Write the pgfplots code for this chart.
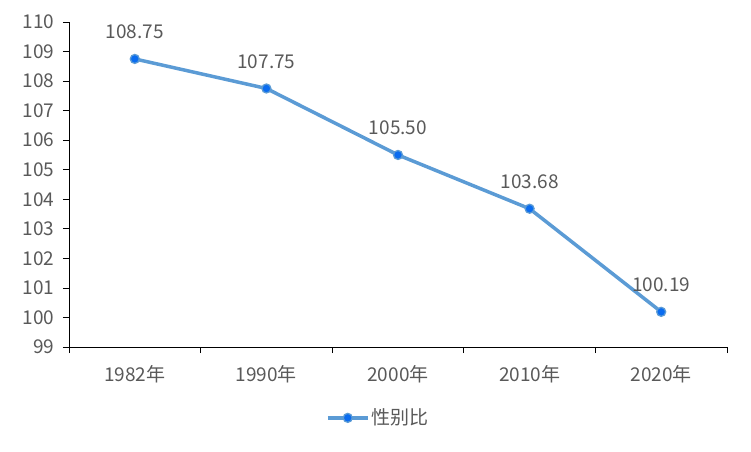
\documentclass[border=0pt]{standalone}
\usepackage{fontspec}
\setmainfont{Noto Sans CJK SC}
\usepackage{pgfplots}
\pgfplotsset{compat=1.18}
\definecolor{linec}{HTML}{5B9BD5}
\definecolor{markc}{HTML}{0A6CF0}
\definecolor{txt}{HTML}{595959}
\begin{document}
\fontsize{19}{22}\selectfont
\begin{tikzpicture}
\begin{axis}[
  at={(0pt,0pt)}, anchor=south west,
  scale only axis, width=658pt, height=325pt,
  xmin=-0.5, xmax=4.5, ymin=99, ymax=110,
  axis x line*=bottom, axis y line*=left,
  axis line style={black, line width=0.8pt},
  xtick={0,1,2,3,4},
  xticklabels={1982年,1990年,2000年,2010年,2020年},
  minor xtick={-0.5,0.5,1.5,2.5,3.5,4.5},
  major x tick style={draw=none},
  minor x tick style={black, line width=0.8pt},
  ytick={99,100,...,110},
  y tick style={black, line width=0.8pt},
  tick align=outside,
  major tick length=6pt, minor tick length=6pt,
  tick label style={text=txt, font=\fontsize{19}{22}\selectfont},
  /pgf/number format/assume math mode=true,
  yticklabel style={xshift=-2pt},
  xticklabel style={yshift=-6pt},
  nodes near coords,
  nodes near coords style={text=txt, font=\fontsize{19}{22}\selectfont, yshift=13pt,
    /pgf/number format/fixed, /pgf/number format/fixed zerofill,
    /pgf/number format/precision=2, /pgf/number format/assume math mode=true},
  legend style={at={(0.47,-0.218)}, anchor=center, draw=none, fill=none,
    font=\fontsize{19}{22}\selectfont, text=txt},
  legend image code/.code={
    \draw[#1, mark repeat=2, mark phase=2] plot coordinates {(0pt,0pt) (20pt,0pt) (40pt,0pt)};
  },
  clip=false,
]
\addplot[color=linec, line width=3.5pt, mark=*, mark size=4.5pt,
  mark options={fill=markc, draw=linec, line width=1.3pt}]
  coordinates {(0,108.75) (1,107.75) (2,105.50) (3,103.68) (4,100.19)};
\addlegendentry{性别比}
\end{axis}
\path[use as bounding box] (-69pt,-104pt) rectangle (682pt,347pt);
\end{tikzpicture}
\end{document}
